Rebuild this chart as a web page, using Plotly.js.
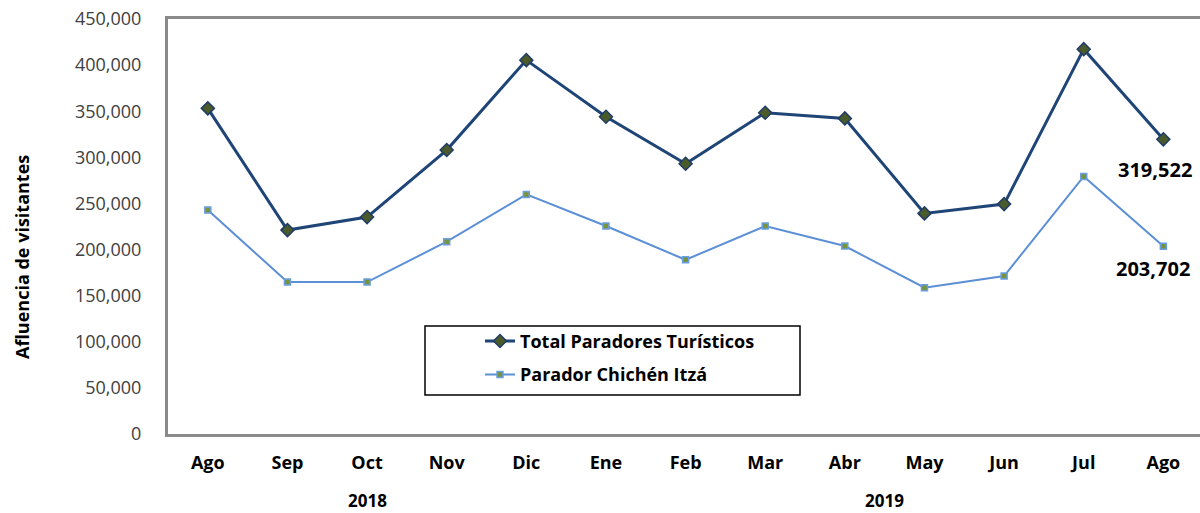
<!DOCTYPE html>
<html>
<head>
<meta charset="utf-8">
<script src="https://cdn.plot.ly/plotly-3.0.1.min.js"></script>
<style>html,body{margin:0;padding:0;background:#fff;}#chart{width:1200px;height:513px;}</style>
</head>
<body>
<div id="chart"></div>
<script>
const months = ["Ago","Sep","Oct","Nov","Dic","Ene","Feb","Mar","Abr","May","Jun","Jul","Ago"];
const totalParadores = [353100,221100,235200,307900,405400,344000,293000,348300,342200,239200,249300,417300,319522];
const paradorChichen = [242800,164800,164800,208500,259800,225500,188900,225500,203800,158600,171300,279300,203702];
const years = ["2018","2019"];
const lastTotalLabel = "319,522";
const lastChichenLabel = "203,702";

const xIdx = months.map((m, i) => i);
const FONT = "'Open Sans', Roboto, 'DejaVu Sans', sans-serif";

const traces = [
  {
    x: xIdx, y: totalParadores, type: "scatter", mode: "lines+markers",
    name: "Total Paradores Turísticos", legendgroup: "a",
    line: {color: "#1f4577", width: 3},
    marker: {symbol: "diamond", size: 10, color: "#4a5a2a", line: {color: "#1f3c66", width: 1.5}}
  },
  {
    x: xIdx, y: paradorChichen, type: "scatter", mode: "lines+markers",
    name: "Parador Chichén Itzá", legendgroup: "b",
    line: {color: "#5b8fd6", width: 2},
    marker: {symbol: "square", size: 6, color: "#77933c", line: {color: "#6a9ee0", width: 1.5}}
  }
];

const layout = {
  width: 1200, height: 513,
  margin: {l: 168, r: 0, t: 19, b: 79},
  paper_bgcolor: "#fff", plot_bgcolor: "#fff",
  font: {family: FONT, color: "#000"},
  showlegend: true,
  legend: {
    x: (480-168)/1032, y: 0.268, xanchor: "left", yanchor: "top",
    bgcolor: "rgba(0,0,0,0)", borderwidth: 0,
    traceorder: "grouped", tracegroupgap: 7,
    font: {family: FONT, size: 18, color: "#000", weight: "bold"}
  },
  xaxis: {
    range: [-0.5, 12.46],
    tickmode: "array", tickvals: xIdx, ticktext: months,
    showgrid: false, zeroline: false,
    showline: true, mirror: true, linecolor: "#8a8a8a", linewidth: 3,
    ticks: "", ticklabelstandoff: 10,
    tickfont: {family: FONT, size: 18, color: "#000", weight: "bold"}
  },
  yaxis: {
    range: [0, 450000], dtick: 50000, tickformat: ",",
    showgrid: false, zeroline: false,
    showline: true, mirror: false, linecolor: "#8a8a8a", linewidth: 3,
    ticks: "", ticklabelstandoff: 20,
    tickfont: {family: FONT, size: 18, color: "#404040"}
  },
  shapes: [
    {type: "rect", xref: "paper", yref: "paper",
     x0: (425-168)/1032, x1: (800-168)/1032, y0: (434-395)/415, y1: (434-326)/415,
     line: {color: "#000", width: 1.5}, fillcolor: "rgba(0,0,0,0)"}
  ],
  annotations: [
    {xref: "paper", yref: "paper", x: (22-168)/1032, y: (434-257)/415, xanchor: "center", yanchor: "middle",
     text: "Afluencia de visitantes", textangle: -90, showarrow: false,
     font: {family: FONT, size: 18, color: "#000", weight: "bold"}},
    {xref: "x", yref: "paper", x: 2, y: (434-500)/415, xanchor: "center", yanchor: "middle", text: years[0], showarrow: false,
     font: {family: FONT, size: 17, color: "#000", weight: "bold"}},
    {xref: "x", yref: "paper", x: 8.5, y: (434-500)/415, xanchor: "center", yanchor: "middle", text: years[1], showarrow: false,
     font: {family: FONT, size: 17, color: "#000", weight: "bold"}},
    {xref: "x", yref: "y", x: 12, y: totalParadores[12], text: lastTotalLabel, showarrow: false,
     xshift: -8, yshift: -30, font: {family: FONT, size: 20, color: "#000", weight: "bold"}},
    {xref: "x", yref: "y", x: 12, y: paradorChichen[12], text: lastChichenLabel, showarrow: false,
     xshift: -10, yshift: -22, font: {family: FONT, size: 20, color: "#000", weight: "bold"}}
  ]
};

Plotly.newPlot("chart", traces, layout, {displayModeBar: false, staticPlot: true});
</script>
</body>
</html>
